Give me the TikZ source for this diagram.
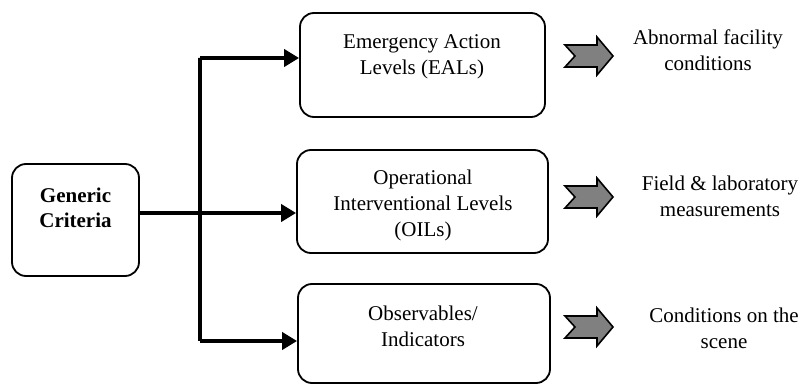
\documentclass[tikz,border=0pt]{standalone}
\usepackage{fontspec}
\setmainfont{Liberation Serif}
\usetikzlibrary{arrows.meta}
\definecolor{arrowgray}{RGB}{128,128,128}
\tikzset{
  box/.style={draw=black, line width=1.8pt, rounded corners=14pt, inner sep=0pt},
  txt/.style={align=center, inner sep=0pt, font=\fontsize{21}{26}\selectfont},
  conn/.style={line width=4pt, -{Triangle[length=15pt,width=17pt]}},
  trunk/.style={line width=4pt},
  pics/notcharrow/.style={code={
    \draw[line width=1.6pt, fill=arrowgray, line join=miter]
      (-24,-11) -- (8,-11) -- (8,-19) -- (24,0) -- (8,19) -- (8,11)
      -- (-24,11) -- (-14,0) -- cycle;
  }}
}
\begin{document}
\begin{tikzpicture}[x=1pt,y=-1pt]
\useasboundingbox (0,0) rectangle (804,385);

% boxes
\node[box, minimum width=127pt, minimum height=112pt] (gc) at (75.5,220) {};
\node[box, minimum width=245pt, minimum height=104pt] (eal) at (422.5,65) {};
\node[box, minimum width=251pt, minimum height=103pt] (oil) at (422.5,201.5) {};
\node[box, minimum width=252pt, minimum height=99pt] (obs) at (424,333.5) {};

% box texts
\node[txt, font=\fontsize{21}{25}\selectfont\bfseries] (gct) at (75.5,207.5) {Generic\\Criteria};
\node[txt] (ealt) at (422,57) {Emergency Action\\Levels (EALs)};
\node[txt] (oilt) at (423,205) {Operational\\Interventional Levels\\(OILs)};
\node[txt] (obst) at (423,326) {Observables/\\Indicators};

% outcome texts
\node[txt] (r1) at (708,50) {Abnormal facility\\conditions};
\node[txt] (r2) at (720,196) {Field \& laboratory\\measurements};
\node[txt] (r3) at (724,328) {Conditions on the\\scene};

% block arrows
\pic (a1) at (589,56) {notcharrow};
\pic (a2) at (589,197) {notcharrow};
\pic (a3) at (589,327) {notcharrow};

% connectors
\coordinate (top) at (200,58);
\coordinate (bot) at (200,341);
\draw[trunk] ([yshift=-7pt]eal.west -| top) -- (top) -- (bot) -- ([yshift=-7.5pt]obs.west -| bot);
\draw[conn] ([yshift=7pt]eal.west -| top) -- ([yshift=7pt]eal.west);
\draw[conn] ([yshift=-7.5pt]obs.west -| bot) -- ([yshift=-7.5pt]obs.west);
\draw[conn] ([yshift=7pt]gc.east) -- ([yshift=-11.5pt]oil.west);
\end{tikzpicture}
\end{document}
